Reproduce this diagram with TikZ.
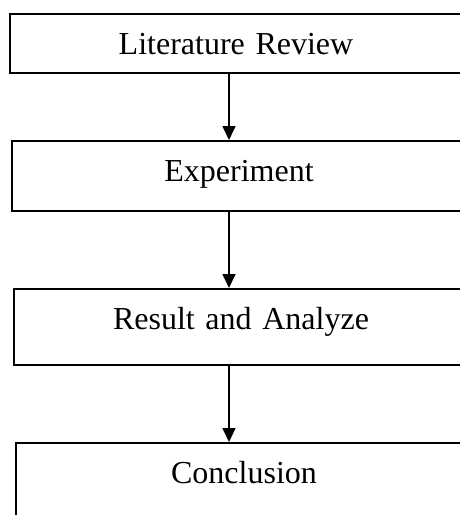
\documentclass[tikz,border=0pt]{standalone}
\usepackage{fontspec}
\setmainfont{Liberation Serif}
\usepackage{tikz}
\usetikzlibrary{arrows.meta}

\begin{document}
\begin{tikzpicture}[x=1pt, y=-1pt, >={Triangle[width=13pt, length=14pt]},
    stage/.style={draw, line width=1.8pt, anchor=north, inner sep=0pt,
        align=center, text height=41pt, font=\fontsize{32}{38}\selectfont}]
    \useasboundingbox (0,0) rectangle (460,515);
    \clip (0,0) rectangle (460,515);

    % Stages of the work
    \node[stage, text width=452pt, text depth=18pt] (lit) at (236,13) {Literature Review};
    \node[stage, text width=454pt, text depth=29pt] (exp) at (239,140) {Experiment};
    \node[stage, text width=454pt, text depth=35pt] (res) at (241,288) {Result and Analyze};
    \node[stage, text width=456pt, text depth=40pt] (con) at (244,442) {Conclusion};

    % Arrows between the stages
    \coordinate (axis) at (229,0);
    \draw[->, line width=1.6pt] (lit.south -| axis) -- (exp.north -| axis);
    \draw[->, line width=1.6pt] (exp.south -| axis) -- (res.north -| axis);
    \draw[->, line width=1.6pt] (res.south -| axis) -- (con.north -| axis);

\end{tikzpicture}
\end{document}
